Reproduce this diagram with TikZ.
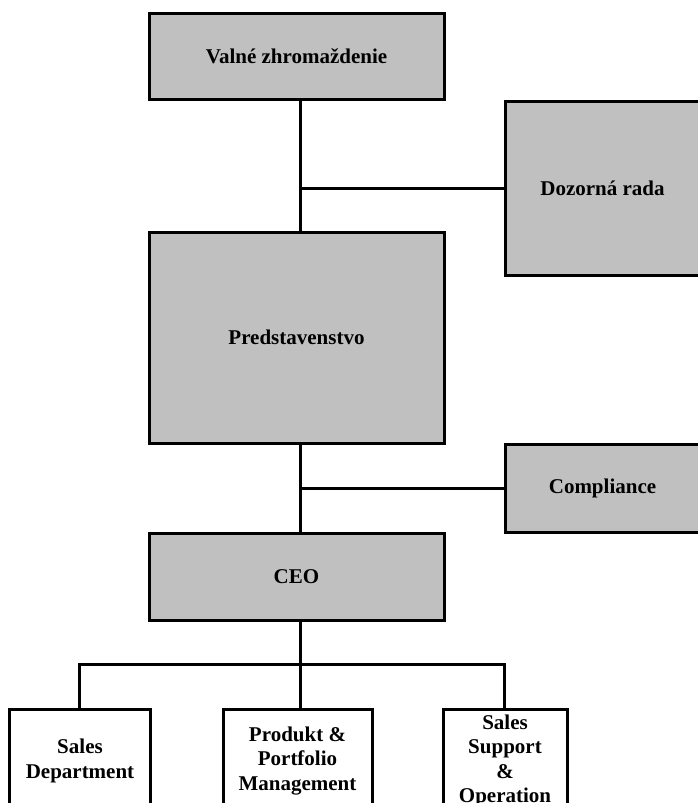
\documentclass[tikz,border=0pt]{standalone}
\usepackage{fontspec}
\setmainfont{Liberation Serif}
\definecolor{boxgray}{HTML}{C0C0C0}
\begin{document}
\begin{tikzpicture}[x=1pt,y=-1pt,
  box/.style={draw=black, line width=3pt, fill=boxgray, rectangle, inner sep=0pt,
    font=\fontsize{21}{24.5}\selectfont\bfseries, align=center},
  wbox/.style={box, fill=white},
  conn/.style={line width=3pt}]
\useasboundingbox (0,0) rectangle (698,803);
\clip (0,0) rectangle (698,803);
% boxes
\node[box, minimum width=295pt, minimum height=86pt] (vz) at (296.5,56) {Valné zhromaždenie};
\node[box, minimum width=195pt, minimum height=174pt] (dr) at (602.5,188) {Dozorná rada};
\node[box, minimum width=295pt, minimum height=211pt] (pr) at (296.5,337.5) {Predstavenstvo};
\node[box, minimum width=195pt, minimum height=88pt] (co) at (602.5,488) {Compliance};
\node[box, minimum width=295pt, minimum height=87pt] (ceo) at (296.5,576.5) {CEO};
\node[wbox, minimum width=141pt, minimum height=104pt] (sd) at (80,761) {Sales\\Department};
\node[wbox, minimum width=149pt, minimum height=104pt] (pp) at (297.5,761) {Produkt \&\\Portfolio\\Management};
\node[wbox, minimum width=124pt, minimum height=104pt] (ss) at (505,761) {Sales\\Support\\\&\\Operation};
% junction coordinates
\coordinate (j1) at (300,188);
\coordinate (j2) at (300,488);
\coordinate (j3) at (300,664);
\coordinate (jl) at (79,664);
\coordinate (jr) at (504,664);
% connectors
\draw[conn] (vz.south -| j1) -- (pr.north -| j1);
\draw[conn] (j1) -- (dr.west |- j1);
\draw[conn] (pr.south -| j2) -- (ceo.north -| j2);
\draw[conn] (j2) -- (co.west |- j2);
\draw[conn] (ceo.south -| j3) -- (pp.north -| j3);
\draw[conn] (sd.north -| jl) -- (jl) -- (jr) -- (ss.north -| jr);
\end{tikzpicture}
\end{document}
